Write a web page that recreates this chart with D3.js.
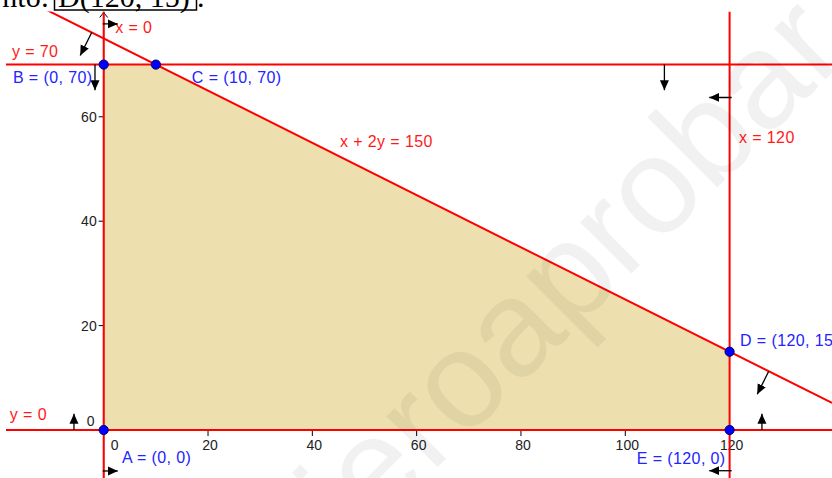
<!DOCTYPE html>
<html>
<head>
<meta charset="utf-8">
<style>
  body { margin: 0; background: #fff; }
  svg { display: block; }
  .tick-label { font: 14px "Liberation Sans", Arial, sans-serif; fill: #222; }
  .line-label { font: 16px "Liberation Sans", Arial, sans-serif; fill: #ff1a1a; letter-spacing: 0.4px; }
  .point-label { font: 16px "Liberation Sans", Arial, sans-serif; fill: #2323ff; letter-spacing: 0.4px; }
  .top-text { font: 30px "Liberation Serif", "Times New Roman", serif; fill: #000; }
</style>
<script src="https://d3js.org/d3.v7.min.js"></script>
</head>
<body>
<svg id="chart"></svg>
<script>

var xTicks = [20, 40, 60, 80, 100, 120];
var yTicks = [20, 40, 60];

// feasible region vertices, in order
var vertexNames = ["A", "B", "C", "D", "E"];
var vertexX = [0, 0, 10, 120, 120];
var vertexY = [0, 70, 70, 15, 0];
var vertexLabelX = [3.5, -17.4, 16.9, 122.0, 102.2];
var vertexLabelY = [-6.3, 66.5, 66.5, 16.1, -6.5];

// constraint lines a*x + b*y = c
var lineNames = ["x = 0", "y = 70", "x + 2y = 150", "x = 120", "y = 0"];
var lineA = [1, 0, 1, 1, 0];
var lineB = [0, 1, 2, 0, 1];
var lineC = [0, 70, 150, 120, 0];
var lineLabelX = [2.2, -17.6, 45.3, 121.8, -18.0];
var lineLabelY = [76.0, 71.5, 54.2, 55.0, 1.9];

// half-plane arrows (from, to)
var arrowX1 = [-0.2, -0.2, -1.67, 107.5, -2.3, 127.5, 120.4, 120.4, -5.7, 126.2];
var arrowY1 = [77.8, -7.85, 70, 70, 76.15, 11.25, 63.7, -7.8, 0, 0];
var arrowX2 = [2.7, 2.7, -1.67, 107.5, -4.5, 125.3, 116.1, 116.1, -5.7, 126.2];
var arrowY2 = [77.8, -7.85, 65.1, 65.1, 71.75, 6.85, 63.7, -7.8, 3.1, 3.1];

var width = 832,
    height = 478;
var view = { left: 6, top: 11.5, right: 832, bottom: 478 };

var x = d3.scaleLinear().domain([0, 120]).range([103.7, 729.6]);
var y = d3.scaleLinear().domain([0, 70]).range([430, 64.6]);

var svg = d3.select("#chart")
    .attr("width", width)
    .attr("height", height);

svg.append("defs").append("clipPath").attr("id", "view")
  .append("rect")
    .attr("x", view.left).attr("y", view.top)
    .attr("width", view.right - view.left).attr("height", view.bottom - view.top);

svg.select("defs").append("marker")
    .attr("id", "head")
    .attr("markerUnits", "userSpaceOnUse")
    .attr("markerWidth", 12).attr("markerHeight", 12)
    .attr("refX", 10).attr("refY", 5)
    .attr("orient", "auto")
  .append("path")
    .attr("d", "M0,0.5L10,5L0,9.5Z")
    .attr("fill", "#000");

var g = svg.append("g").attr("clip-path", "url(#view)");

// feasible region
var region = vertexX.map(function(d, i) { return [x(d), y(vertexY[i])]; });
g.append("path")
    .attr("d", "M" + region.join("L") + "Z")
    .attr("fill", "#ede0ae");

// axes (under the constraint lines)
g.append("line")
    .attr("x1", view.left).attr("x2", view.right)
    .attr("y1", y(0)).attr("y2", y(0))
    .attr("stroke", "#000");
g.append("line")
    .attr("x1", x(0)).attr("x2", x(0))
    .attr("y1", view.top).attr("y2", view.bottom)
    .attr("stroke", "#000");
g.append("path")
    .attr("d", "M" + (x(0) - 4) + "," + (view.top + 6) + "L" + x(0) + "," + (view.top + 1) + "L" + (x(0) + 4) + "," + (view.top + 6))
    .attr("fill", "none").attr("stroke", "#000");

g.selectAll(".xtick").data(xTicks).enter().append("line")
    .attr("x1", function(d) { return x(d); }).attr("x2", function(d) { return x(d); })
    .attr("y1", y(0)).attr("y2", y(0) + 6)
    .attr("stroke", "#000");
g.selectAll(".ytick").data(yTicks).enter().append("line")
    .attr("x1", x(0) - 5).attr("x2", x(0))
    .attr("y1", function(d) { return y(d); }).attr("y2", function(d) { return y(d); })
    .attr("stroke", "#000");

g.selectAll(".xlab").data(xTicks).enter().append("text")
    .attr("class", "tick-label")
    .attr("x", function(d) { return x(d) + 2; })
    .attr("y", y(0) + 20)
    .attr("text-anchor", "middle")
    .text(function(d) { return d; });
g.selectAll(".ylab").data(yTicks).enter().append("text")
    .attr("class", "tick-label")
    .attr("x", x(0) - 7)
    .attr("y", function(d) { return y(d) + 5; })
    .attr("text-anchor", "end")
    .text(function(d) { return d; });
g.append("text").attr("class", "tick-label")
    .attr("x", x(0) + 11).attr("y", y(0) + 20)
    .attr("text-anchor", "middle").text("0");
g.append("text").attr("class", "tick-label")
    .attr("x", x(0) - 13).attr("y", y(0) - 4)
    .attr("text-anchor", "middle").text("0");

// constraint lines
var xMin = x.invert(view.left), xMax = x.invert(view.right);
var yMin = y.invert(view.bottom), yMax = y.invert(view.top);
lineNames.forEach(function(name, i) {
  var a = lineA[i], b = lineB[i], c = lineC[i], p1, p2;
  if (b === 0) {
    p1 = [c / a, yMin]; p2 = [c / a, yMax];
  } else {
    p1 = [xMin, (c - a * xMin) / b]; p2 = [xMax, (c - a * xMax) / b];
  }
  g.append("line")
      .attr("x1", x(p1[0])).attr("y1", y(p1[1]))
      .attr("x2", x(p2[0])).attr("y2", y(p2[1]))
      .attr("stroke", "#ff0000")
      .attr("stroke-width", 2);
  g.append("text")
      .attr("class", "line-label")
      .attr("x", x(lineLabelX[i])).attr("y", y(lineLabelY[i]))
      .text(name);
});

// half-plane arrows
arrowX1.forEach(function(d, i) {
  g.append("line")
      .attr("x1", x(d)).attr("y1", y(arrowY1[i]))
      .attr("x2", x(arrowX2[i])).attr("y2", y(arrowY2[i]))
      .attr("stroke", "#000")
      .attr("stroke-width", 1.3)
      .attr("marker-end", "url(#head)");
});

// vertices
g.selectAll(".pt").data(vertexNames).enter().append("circle")
    .attr("cx", function(d, i) { return x(vertexX[i]); })
    .attr("cy", function(d, i) { return y(vertexY[i]); })
    .attr("r", 4.6)
    .attr("fill", "#0000ff")
    .attr("stroke", "#000066")
    .attr("stroke-width", 1);
g.selectAll(".ptlab").data(vertexNames).enter().append("text")
    .attr("class", "point-label")
    .attr("x", function(d, i) { return x(vertexLabelX[i]); })
    .attr("y", function(d, i) { return y(vertexLabelY[i]); })
    .text(function(d, i) { return d + " = (" + vertexX[i] + ", " + vertexY[i] + ")"; });

// watermark, pinned at the start of the "b"
var wm = svg.append("g")
    .attr("transform", "translate(711,194) rotate(-45)");
var wmText = wm.append("text")
    .attr("font-family", "'Liberation Sans', Arial, sans-serif")
    .attr("font-size", 137)
    .attr("fill", "#000")
    .attr("fill-opacity", 0.055)
    .text("yoquieroaprobar.es");
wmText.attr("x", -wmText.node().getSubStringLength(0, 12));

// cropped text line above the graph
svg.append("text").attr("class", "top-text")
    .attr("x", 49).attr("y", 7).attr("text-anchor", "end").text("nto:");
svg.append("text").attr("class", "top-text")
    .attr("x", 58).attr("y", 7).text("D(120, 15)");
svg.append("text").attr("class", "top-text")
    .attr("x", 197).attr("y", 7).text(".");
svg.append("rect")
    .attr("x", 54.5).attr("y", -30).attr("width", 142).attr("height", 40)
    .attr("fill", "none").attr("stroke", "#000").attr("stroke-width", 1.5);

</script>
</body>
</html>
